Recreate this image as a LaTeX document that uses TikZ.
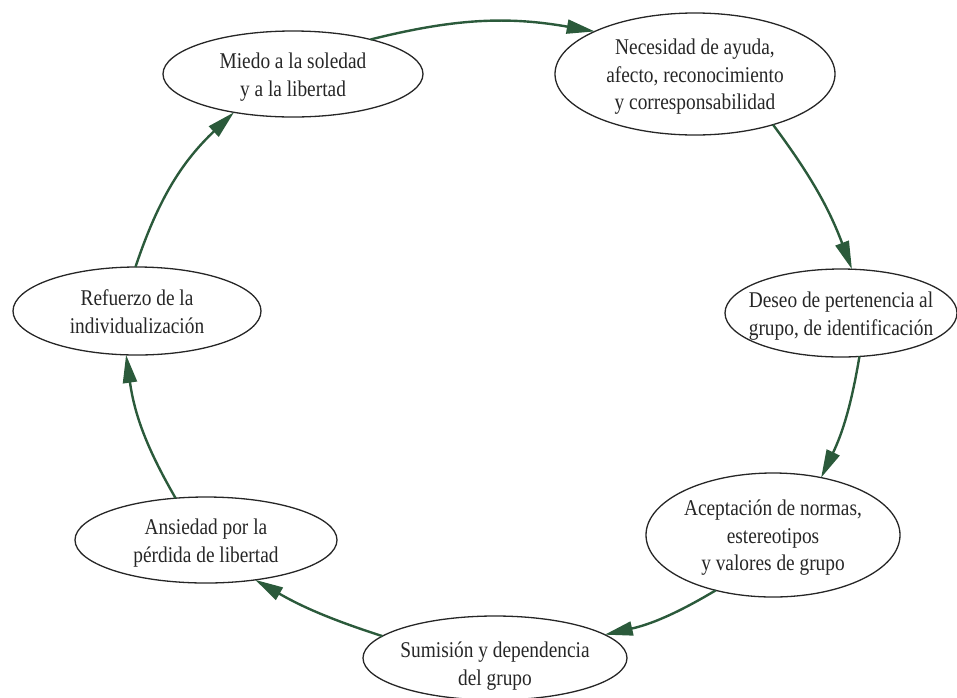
\documentclass[tikz,border=0pt]{standalone}
\usepackage{fontspec}
\setmainfont[FakeStretch=0.86]{Liberation Serif}
\usetikzlibrary{shapes.geometric,arrows.meta}

\definecolor{cycgreen}{HTML}{2B5A3B}
\definecolor{inkgray}{HTML}{262626}

% centred multi-line label that takes no room, so the ellipse keeps its set size
\newcommand\stagetext[2][0pt]{\raisebox{\dimexpr-0.36em+#1\relax}[0pt][0pt]{\makebox[0pt]{\begin{tabular}{@{}c@{}}#2\end{tabular}}}}

\tikzset{
  stage/.style={ellipse, draw=inkgray, line width=1.3pt, inner sep=0pt, outer sep=0pt,
                text=inkgray, font=\fontsize{22.5}{27.5}\selectfont},
  flow/.style={draw=cycgreen, line width=2.4pt, -{Triangle[length=28pt,width=14pt]}}
}

\begin{document}
\begin{tikzpicture}[x=1pt,y=1pt]
\useasboundingbox (0,0) rectangle (957,-697);

\node[stage, minimum width=260pt, minimum height=86pt] (miedo) at (293,-74)
  {\stagetext{Miedo a la soledad\\y a la libertad}};
\node[stage, minimum width=280pt, minimum height=122pt] (necesidad) at (695,-74)
  {\stagetext{Necesidad de ayuda,\\afecto, reconocimiento\\y corresponsabilidad}};
\node[stage, minimum width=232pt, minimum height=88pt] (deseo) at (841,-313)
  {\stagetext{Deseo de pertenencia al\\grupo, de identificación}};
\node[stage, minimum width=254pt, minimum height=124pt] (aceptacion) at (773,-535)
  {\stagetext{Aceptación de normas,\\estereotipos\\y valores de grupo}};
\node[stage, minimum width=264pt, minimum height=84pt] (sumision) at (495,-658)
  {\stagetext[-5pt]{Sumisión y dependencia\\del grupo}};
\node[stage, minimum width=262pt, minimum height=86pt] (ansiedad) at (206,-540)
  {\stagetext{Ansiedad por la\\pérdida de libertad}};
\node[stage, minimum width=248pt, minimum height=88pt] (refuerzo) at (137,-311)
  {\stagetext{Refuerzo de la\\individualización}};

% the cycle runs clockwise, each link bowing outwards
\draw[flow] (miedo.24) to[bend left=12] (necesidad.157);
\draw[flow] (necesidad.-33) to[bend left=8] (deseo.76);
\draw[flow] (deseo.-67) to[bend left=8] (aceptacion.50);
\draw[flow] (aceptacion.224) to[bend left=9] (sumision.12);
\draw[flow] (sumision.169) to[bend left=6] (ansiedad.-39);
\draw[flow] (ansiedad.126) to[bend left=11] (refuerzo.256);
\draw[flow] (refuerzo.92) to[bend left=14] (miedo.213);
\end{tikzpicture}
\end{document}
